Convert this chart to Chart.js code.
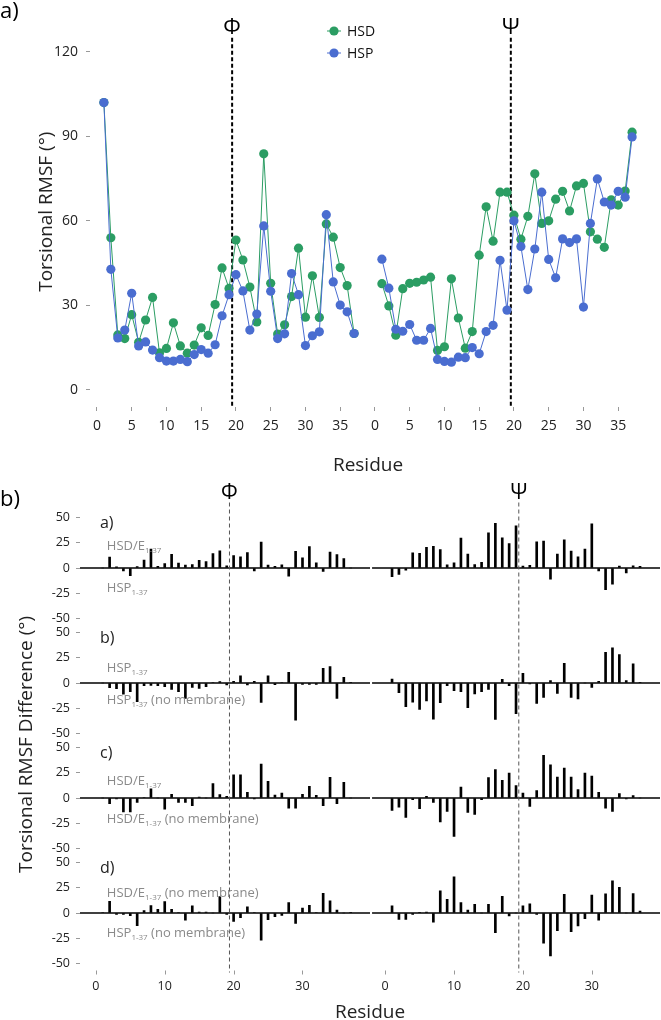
<!DOCTYPE html>
<html>
<head>
<meta charset="utf-8">
<script src="https://cdn.jsdelivr.net/npm/chart.js@4.4.0/dist/chart.umd.min.js"></script>
<style>
  html, body { margin: 0; padding: 0; background: #fff; overflow: hidden; }
  #wrap { position: relative; width: 661px; height: 1020px; }
  .box { position: absolute; left: 0; width: 661px; }
  .xlab { position: absolute; z-index: 10; font: 12.5px 'Open Sans', sans-serif; line-height: 1; color: #222; transform: translateX(-50%); white-space: nowrap; }
</style>
</head>
<body>
<div id="wrap">
  <div class="box" style="top:0;height:480px"><canvas id="rmsfChart"></canvas></div>
  <div class="box" style="top:480px;height:560px"><canvas id="diffChart"></canvas></div>
</div>
<script>
// residues of the peptide (same numbering for the phi and psi facets)
const residues = [1,2,3,4,5,6,7,8,9,10,11,12,13,14,15,16,17,18,19,20,21,22,23,24,25,26,27,28,29,30,31,32,33,34,35,36,37];

// panel a) torsional RMSF (deg)
const hsdPhi = [102, 54, 19.5, 18.2, 26.7, 16.9, 24.8, 32.8, 13.1, 14.7, 23.8, 15.6, 13.0, 15.9, 22.0, 19.3, 30.3, 43.3, 36.0, 53.2, 46.1, 36.5, 24.1, 83.8, 37.8, 19.8, 23.1, 33.1, 50.3, 25.8, 40.5, 25.7, 58.9, 54.2, 43.4, 37.0, 20.0];
const hspPhi = [102, 42.8, 18.4, 21.2, 34.3, 15.6, 17.0, 14.1, 11.4, 10.2, 10.2, 10.8, 10.0, 12.5, 14.3, 13.0, 16.0, 26.3, 33.8, 40.9, 35.1, 21.2, 26.9, 58.2, 35.0, 18.2, 19.9, 41.3, 33.8, 15.7, 19.2, 20.6, 62.2, 38.3, 30.1, 27.7, 20.0];
const hsdPsi = [37.7, 29.8, 19.4, 35.9, 37.8, 38.2, 39.0, 40.0, 14.0, 15.3, 39.4, 25.5, 14.8, 20.7, 47.8, 65.0, 52.8, 70.2, 70.2, 62.0, 53.5, 61.6, 76.7, 59.1, 60.0, 67.7, 70.5, 63.5, 72.4, 73.3, 56.1, 53.5, 50.6, 67.5, 65.6, 70.6, 91.5];
const hspPsi = [46.4, 36.1, 21.5, 20.8, 23.2, 17.6, 17.6, 21.8, 10.8, 10.1, 9.8, 11.6, 11.4, 15.0, 12.8, 20.7, 22.9, 46.0, 28.3, 60.0, 50.9, 35.6, 50.0, 70.2, 46.3, 39.8, 53.6, 52.3, 53.6, 29.4, 59.1, 74.9, 66.7, 65.6, 70.5, 68.4, 89.8];

// panel b) torsional RMSF differences (deg), sub-panels a-d
const diffAPhi = [0, 10.8, 1.1, -3.0, -7.6, 1.3, 7.8, 18.7, 1.7, 4.5, 13.6, 4.8, 3.0, 3.4, 7.7, 6.3, 14.3, 17.0, 2.2, 12.3, 11.0, 15.3, -2.8, 25.6, 2.8, 1.6, 3.2, -8.2, 16.5, 10.1, 21.3, 5.1, -3.3, 15.9, 13.3, 9.3, 0];
const diffAPsi = [-8.7, -6.3, -2.1, 15.1, 14.6, 20.6, 21.4, 18.2, 3.2, 5.2, 29.6, 13.9, 3.4, 5.7, 35.0, 44.3, 29.9, 24.2, 41.9, 2.0, 2.6, 26.0, 26.7, -11.1, 13.7, 27.9, 16.9, 11.2, 18.8, 43.9, -3.0, -21.4, -16.1, 1.9, -4.9, 2.2, 1.7];
const diffBPhi = [0, -4.6, -5.6, -11.0, -8.6, -18.5, -2.6, -2.3, -2.6, -3.6, -6.3, -8.6, -15.2, -4.3, -5.3, -3.6, 0.5, 1.3, -2.0, 1.6, 7.0, -2.0, 1.6, -19.2, 7.0, -1.6, 0.5, 10.6, -36.8, -1.3, -1.3, -1.3, 14.6, 16.2, -15.2, 5.6, 0.7];
const diffBPsi = [4.0, -9.6, -23.5, -18.9, -26.2, -17.9, -35.8, -19.5, -2.6, -7.6, -8.6, -24.5, -10.9, -8.6, -6.3, -36.1, 3.6, -2.6, -30.5, 9.6, -1.0, -20.2, -14.2, 2.3, -10.3, 19.5, -14.2, -15.9, 0, -4.3, 1.6, 30.5, 34.8, 28.1, 2.3, 18.9, 0.7];
const diffCPhi = [0, -5.6, -1.0, -13.9, -13.9, -4.3, 0.5, 9.0, 0, -11.0, 3.6, -4.3, -4.3, -7.6, 1.0, 0, 14.2, 3.3, 1.6, 23.0, 23.0, 5.6, -1.0, 33.7, 16.5, 3.0, 5.0, -10.0, -10.0, 3.6, 11.6, 2.6, -7.6, 20.4, -5.6, 15.6, 0];
const diffCPsi = [-12.3, -9.0, -19.2, -1.6, -10.6, 1.6, -4.3, -23.8, -13.2, -38.0, 10.9, -14.2, -16.2, -1.6, 20.2, 28.2, 17.5, 24.8, 12.2, 5.0, -8.3, 7.3, 42.3, 33.0, 20.8, 29.8, 20.8, 8.3, 24.8, 21.8, 5.6, -10.0, -13.2, 4.3, -1.0, 2.3, 0];
const diffDPhi = [0.5, 11.6, -1.3, -1.3, -2.6, -12.6, 2.3, 7.3, 3.6, 11.3, 3.6, 0.5, -7.0, 7.0, 1.0, 1.0, 0, 16.2, -1.3, -8.3, -4.6, 6.0, 0.5, -27.0, -6.6, -3.6, -2.3, 10.3, -10.3, 5.0, 7.6, 0.5, 19.5, 12.0, 3.0, 0, 0.7];
const diffDPsi = [7.0, -6.3, -6.3, -1.3, 0.3, 1.0, -9.0, 21.9, 13.6, 36.0, 10.3, 3.0, 8.6, 0, 8.6, -19.5, 16.6, -3.0, 0, 7.0, 9.0, -1.3, -30.0, -42.7, -17.5, 18.5, -18.5, -12.9, -5.6, 17.9, -7.0, 18.9, 31.8, 25.5, 0, 19.2, 2.0];

// tick positions and labels
const rmsfXTicks = [0, 5, 10, 15, 20, 25, 30, 35, 40, 45, 50, 55, 60, 65, 70, 75];
const rmsfYTicks = [0, 30, 60, 90, 120];
const diffXTicks = [0, 10, 20, 30, 42, 52, 62, 72];
const diffXTickLabels = ['0', '10', '20', '30', '0', '10', '20', '30'];
const diffYTicks = [-50, -25, 0, 25, 50];

// layout of the two facets on one x axis
const TOP_PSI_OFFSET = 40;
const DIFF_PSI_OFFSET = 42;
const PANEL_LIM = 57.05;
const GREEN = '#2b9d63';
const BLUE = '#4a6dd0';
const INK = '#222';
const FONT = "'Open Sans', sans-serif";

Chart.defaults.font.family = FONT;
Chart.defaults.animation = false;

function linePoints(phi, psi, offset) {
  const pts = residues.map((r, i) => ({ x: r, y: phi[i] }));
  pts.push({ x: offset - 1, y: null }); // break between facets
  residues.forEach((r, i) => pts.push({ x: r + offset, y: psi[i] }));
  return pts;
}

function barPoints(phi, psi) {
  return residues.map((r, i) => ({ x: r, y: phi[i] }))
    .concat(residues.map((r, i) => ({ x: r + DIFF_PSI_OFFSET, y: psi[i] })));
}

// draw a label made of normal and subscript parts
function drawParts(ctx, x, y, parts, size) {
  let cx = x;
  parts.forEach(([text, sub]) => {
    ctx.font = (sub ? Math.round(size * 0.6) : size) + 'px ' + FONT;
    ctx.fillText(text, cx, sub ? y + size * 0.35 : y);
    cx += ctx.measureText(text).width;
  });
}

// sub-panels of b)
const panels = [
  { key: 'ya', phi: diffAPhi, psi: diffAPsi, letter: 'a)', upper: [['HSD/E', 0], ['1-37', 1]], lower: [['HSP', 0], ['1-37', 1]], upperY: 22, lowerY: -20 },
  { key: 'yb', phi: diffBPhi, psi: diffBPsi, letter: 'b)', upper: [['HSP', 0], ['1-37', 1]], lower: [['HSP', 0], ['1-37', 1], [' (no membrane)', 0]], upperY: 15, lowerY: -17 },
  { key: 'yc', phi: diffCPhi, psi: diffCPsi, letter: 'c)', upper: [['HSD/E', 0], ['1-37', 1]], lower: [['HSD/E', 0], ['1-37', 1], [' (no membrane)', 0]], upperY: 16.6, lowerY: -21 },
  { key: 'yd', phi: diffDPhi, psi: diffDPsi, letter: 'd)', upper: [['HSD/E', 0], ['1-37', 1], [' (no membrane)', 0]], lower: [['HSP', 0], ['1-37', 1], [' (no membrane)', 0]], upperY: 19.7, lowerY: -20.3 }
];

const diffDecor = {
  id: 'diffDecor',
  beforeDatasetsDraw(chart) {
    const { ctx, chartArea, scales } = chart;
    const x = scales.x;
    ctx.save();
    ctx.strokeStyle = '#000';
    ctx.lineWidth = 1.3;
    panels.forEach(p => {
      const py = scales[p.key].getPixelForValue(0);
      [[-2.3, 39.8], [DIFF_PSI_OFFSET - 1.9, 81.9]].forEach(([a, b]) => {
        ctx.beginPath();
        ctx.moveTo(x.getPixelForValue(a), py);
        ctx.lineTo(x.getPixelForValue(b), py);
        ctx.stroke();
      });
    });
    ctx.strokeStyle = '#555';
    ctx.lineWidth = 1;
    ctx.setLineDash([4, 3]);
    [19.4, DIFF_PSI_OFFSET + 19.4].forEach(v => {
      const px = x.getPixelForValue(v);
      ctx.beginPath();
      ctx.moveTo(px, chartArea.top - 8);
      ctx.lineTo(px, chartArea.bottom + 2);
      ctx.stroke();
    });
    ctx.restore();
  },
  afterDraw(chart) {
    const { ctx, chartArea, scales } = chart;
    const x = scales.x;
    ctx.save();
    // residue tick marks of both facets
    ctx.strokeStyle = '#999';
    ctx.lineWidth = 1;
    diffXTicks.forEach(v => {
      const px = Math.round(x.getPixelForValue(v)) + 0.5;
      ctx.beginPath();
      ctx.moveTo(px, chartArea.bottom);
      ctx.lineTo(px, chartArea.bottom + 4);
      ctx.stroke();
    });
    ctx.textBaseline = 'middle';
    ctx.textAlign = 'center';
    ctx.fillStyle = '#000';
    ctx.font = '21px ' + FONT;
    [[19.4, 'Φ'], [DIFF_PSI_OFFSET + 19.4, 'Ψ']].forEach(([v, t]) => {
      ctx.fillText(t, x.getPixelForValue(v), chartArea.top - 17);
    });
    ctx.textAlign = 'left';
    ctx.font = '22px ' + FONT;
    ctx.fillText('b)', 0, 20);
    panels.forEach(p => {
      const ys = scales[p.key];
      ctx.fillStyle = INK;
      ctx.font = '16px ' + FONT;
      ctx.fillText(p.letter, x.getPixelForValue(0.6), ys.getPixelForValue(44));
      ctx.fillStyle = '#8a8a8a';
      drawParts(ctx, x.getPixelForValue(1.6), ys.getPixelForValue(p.upperY), p.upper, 13);
      drawParts(ctx, x.getPixelForValue(1.6), ys.getPixelForValue(p.lowerY), p.lower, 13);
    });
    // shared y title
    ctx.fillStyle = INK;
    ctx.font = '19px ' + FONT;
    ctx.textAlign = 'center';
    ctx.translate(27, (chartArea.top + chartArea.bottom) / 2 + 4);
    ctx.rotate(-Math.PI / 2);
    ctx.fillText('Torsional RMSF Difference (°)', 0, 0);
    ctx.restore();
  }
};

const diffScales = {
  x: {
    type: 'linear', min: -2.3, max: 81.9, offset: false,
    afterBuildTicks: s => { s.ticks = diffXTicks.map(v => ({ value: v })); },
    ticks: { display: false, autoSkip: false, maxRotation: 0 },
    grid: { offset: false, drawOnChartArea: false, drawTicks: false },
    border: { display: false },
    title: { display: true, text: 'Residue', color: INK, font: { size: 19 }, padding: { top: 0, bottom: 16 } },
    afterFit: s => { s.height = 69.5; }
  }
};
panels.forEach((p, i) => {
  diffScales[p.key] = {
    type: 'linear', position: 'left', stack: 'panels', stackWeight: 1, weight: panels.length - i,
    min: -PANEL_LIM, max: PANEL_LIM,
    afterBuildTicks: s => { s.ticks = diffYTicks.map(v => ({ value: v })); },
    ticks: { autoSkip: false, color: INK, font: { size: 12.5 }, padding: 6 },
    grid: { drawOnChartArea: false, tickLength: 4, color: '#999' },
    border: { display: false },
    afterFit: s => { s.width = 80; }
  };
});

const diffChart = new Chart(document.getElementById('diffChart'), {
  type: 'bar',
  data: {
    datasets: panels.map(p => ({
      label: p.letter,
      data: barPoints(p.phi, p.psi),
      yAxisID: p.key,
      backgroundColor: '#000',
      barThickness: 2,
      grouped: false
    }))
  },
  options: {
    responsive: true,
    maintainAspectRatio: false,
    layout: { padding: { top: 30.5, right: 1, left: 0, bottom: 0 } },
    plugins: { legend: { display: false }, tooltip: { enabled: false } },
    scales: diffScales
  },
  plugins: [diffDecor]
});

// residue labels of the bottom axis as text placed through the chart's x scale
(function placeDiffXLabels() {
  const wrap = document.getElementById('wrap');
  const box = document.getElementById('diffChart').parentNode;
  const xs = diffChart.scales.x;
  const top = box.offsetTop + diffChart.chartArea.bottom + 9;
  diffXTicks.forEach((v, i) => {
    const el = document.createElement('div');
    el.className = 'xlab';
    el.textContent = diffXTickLabels[i];
    el.style.left = xs.getPixelForValue(v) + 'px';
    el.style.top = top + 'px';
    wrap.appendChild(el);
  });
})();

const rmsfDecor = {
  id: 'rmsfDecor',
  beforeDatasetsDraw(chart) {
    const { ctx, chartArea, scales: { x, y } } = chart;
    ctx.save();
    ctx.strokeStyle = '#000';
    ctx.lineWidth = 2;
    ctx.setLineDash([4, 2.5]);
    [19.45, TOP_PSI_OFFSET + 19.55].forEach(v => {
      const px = x.getPixelForValue(v);
      ctx.beginPath();
      ctx.moveTo(px, y.getPixelForValue(125));
      ctx.lineTo(px, chartArea.bottom);
      ctx.stroke();
    });
    ctx.restore();
  },
  afterDraw(chart) {
    const { ctx, scales: { x, y } } = chart;
    ctx.save();
    ctx.fillStyle = '#000';
    ctx.textBaseline = 'middle';
    ctx.textAlign = 'center';
    ctx.font = '22px ' + FONT;
    [[19.45, 'Φ'], [TOP_PSI_OFFSET + 19.55, 'Ψ']].forEach(([v, t]) => {
      ctx.fillText(t, x.getPixelForValue(v), y.getPixelForValue(128.6));
    });
    ctx.textAlign = 'left';
    ctx.fillText('a)', 0, 12);
    // legend
    chart.data.datasets.forEach((ds, i) => {
      const lx = 334, ly = 31 + i * 22;
      ctx.strokeStyle = ds.borderColor;
      ctx.lineWidth = 1;
      ctx.beginPath(); ctx.moveTo(lx - 7, ly); ctx.lineTo(lx + 7, ly); ctx.stroke();
      ctx.fillStyle = ds.backgroundColor;
      ctx.beginPath(); ctx.arc(lx, ly, 4.6, 0, Math.PI * 2); ctx.fill();
      ctx.fillStyle = '#111';
      ctx.font = '14px ' + FONT;
      ctx.fillText(ds.label, lx + 13, ly + 1);
    });
    ctx.restore();
  }
};

const rmsfChart = new Chart(document.getElementById('rmsfChart'), {
  type: 'line',
  data: {
    datasets: [
      { label: 'HSD', data: linePoints(hsdPhi, hsdPsi, TOP_PSI_OFFSET), borderColor: GREEN, backgroundColor: GREEN, order: 2 },
      { label: 'HSP', data: linePoints(hspPhi, hspPsi, TOP_PSI_OFFSET), borderColor: BLUE, backgroundColor: BLUE, order: 1 }
    ]
  },
  options: {
    responsive: true,
    maintainAspectRatio: false,
    layout: { padding: { top: 0, right: 15, left: 0, bottom: 0 } },
    elements: {
      line: { borderWidth: 1, tension: 0 },
      point: { radius: 4.6, hoverRadius: 4.6, borderWidth: 0 }
    },
    plugins: { legend: { display: false }, tooltip: { enabled: false } },
    scales: {
      x: {
        type: 'linear', min: -1, max: 79,
        afterBuildTicks: s => { s.ticks = rmsfXTicks.map(v => ({ value: v })); },
        ticks: { callback: v => v >= TOP_PSI_OFFSET ? v - TOP_PSI_OFFSET : v, autoSkip: false, maxRotation: 0, color: INK, font: { size: 14 }, padding: 7 },
        grid: { drawOnChartArea: false, tickLength: 4, color: '#999' },
        border: { display: false },
        title: { display: true, text: 'Residue', color: INK, font: { size: 19 }, padding: { top: 0, bottom: 2.6 } },
        afterFit: s => { s.height = 73; }
      },
      y: {
        min: -6.1, max: 132.6,
        afterBuildTicks: s => { s.ticks = rmsfYTicks.map(v => ({ value: v })); },
        ticks: { color: INK, font: { size: 14 }, padding: 8 },
        grid: { drawOnChartArea: false, tickLength: 4, color: '#999' },
        border: { display: false },
        title: { display: true, text: 'Torsional RMSF (°)', color: INK, font: { size: 19 }, padding: { top: 35.6, bottom: 0 } },
        afterFit: s => { s.width = 90; }
      }
    }
  },
  plugins: [rmsfDecor]
});
</script>
</body>
</html>
